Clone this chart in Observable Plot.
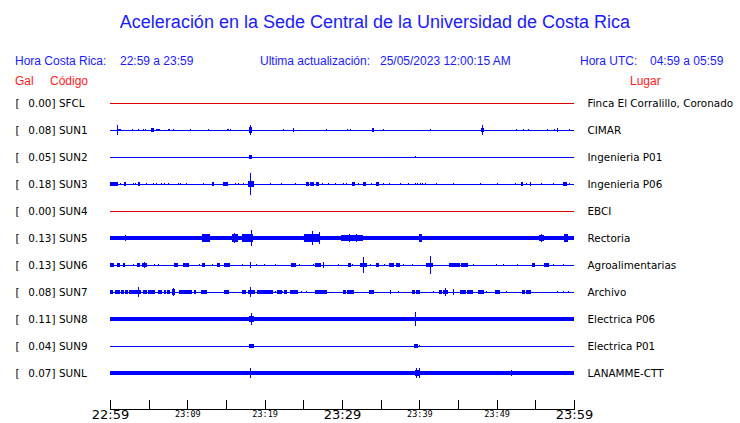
<!DOCTYPE html>
<html>
<head>
<meta charset="utf-8">
<script src="https://cdn.jsdelivr.net/npm/d3@7"></script>
<script src="https://cdn.jsdelivr.net/npm/@observablehq/plot@0.6"></script>
<style>
  html, body { margin: 0; padding: 0; background: #fff; }
  #page { width: 740px; height: 423px; position: relative; overflow: hidden; }
  #head { position: relative; width: 740px; height: 90px; font-family: "Liberation Sans", Arial, sans-serif; }
  #head span { position: absolute; white-space: pre; line-height: 1; }
  .blue { color: #1a1aff; }
  .red { color: #ff1a1a; }
  #chart svg { display: block; }
</style>
</head>
<body>
<div id="page">
  <div id="head">
    <span id="title" class="blue" style="left:5px;width:740px;text-align:center;top:13px;font-size:18px;"></span>
    <span class="blue" style="left:15px;top:55px;font-size:12px;">Hora Costa Rica:</span>
    <span id="hcr" class="blue" style="left:120px;top:55px;font-size:12px;"></span>
    <span class="blue" style="left:260px;top:55px;font-size:12px;">Ultima actualización:</span>
    <span id="upd" class="blue" style="left:380px;top:55px;font-size:12px;"></span>
    <span class="blue" style="left:580px;top:55px;font-size:12px;">Hora UTC:</span>
    <span id="hutc" class="blue" style="left:650px;top:55px;font-size:12px;"></span>
    <span class="red" style="left:15px;top:75px;font-size:12px;">Gal</span>
    <span class="red" style="left:50px;top:75px;font-size:12px;">Código</span>
    <span class="red" style="left:630px;top:75px;font-size:12px;">Lugar</span>
  </div>
  <div id="chart"></div>
</div>
<script>
// ---- texts ----
const titleText = "Aceleración en la Sede Central de la Universidad de Costa Rica";
const horaCostaRica = "22:59 a 23:59";
const ultimaActualizacion = "25/05/2023 12:00:15 AM";
const horaUTC = "04:59 a 05:59";

// ---- stations ----
const codes = ["SFCL", "SUN1", "SUN2", "SUN3", "SUN4", "SUN5", "SUN6", "SUN7", "SUN8", "SUN9", "SUNL"];
const gal = [0.00, 0.08, 0.05, 0.18, 0.00, 0.13, 0.13, 0.08, 0.11, 0.04, 0.07];
const places = ["Finca El Corralillo, Coronado", "CIMAR", "Ingenieria P01", "Ingenieria P06", "EBCI",
  "Rectoria", "Agroalimentarias", "Archivo", "Electrica P06", "Electrica P01", "LANAMME-CTT"];
// background noise half-amplitude (in row units)
const noise = [0, 0, 0, 0, 0, 0.056, 0, 0, 0.056, 0, 0.06];

// ---- time axis (minutes after 22:59) ----
const tickMinutes = [0, 5, 10, 15, 20, 25, 30, 35, 40, 45, 50, 55, 60];
const majorLabelMinutes = [0, 30, 60];
const majorLabels = ["22:59", "23:29", "23:59"];
const minorLabelMinutes = [10, 20, 40, 50];
const minorLabels = ["23:09", "23:19", "23:39", "23:49"];

// ---- events per station: [start minute, end minute, half amplitude (row units)] ----
const sfclEvents = [];
const sun1Events = [[0.95,0.95,0.2],[1.15,1.3,0.055],[2.88,2.88,0.055],[3.70,3.70,0.055],[4.34,4.34,0.055],[4.56,4.56,0.055],
  [5.42,5.59,0.075],[6.02,6.37,0.055],[7.53,7.53,0.055],[7.74,7.74,0.055],[8.17,8.17,0.055],[10.41,10.41,0.055],[12.73,12.73,0.055],
  [15.14,15.14,0.055],[15.35,15.35,0.055],[15.61,15.61,0.055],[18.1,18.3,0.1],[18.19,18.19,0.17],[22.41,22.41,0.055],[23.70,23.70,0.07],
  [28.04,28.04,0.055],[30.75,30.75,0.055],[31.05,31.05,0.045],[34.0,34.1,0.07],[35.40,35.40,0.055],[41.46,41.46,0.055],[48.17,48.17,0.17],
  [48.1,48.3,0.07],[52.56,52.56,0.055],[53.42,53.42,0.055],[54.11,54.11,0.055],[56.56,56.56,0.055],[57.51,57.51,0.055],[57.89,57.89,0.07],[59.44,59.44,0.045]];
const sun2Events = [[18.1,18.3,0.09],[18.19,18.19,0.09],[39.48,39.48,0.045]];
const sun3Events = [[0.05,1.0,0.06],[1.38,1.38,0.055],[1.85,2.0,0.06],[3.05,3.05,0.055],[3.35,3.35,0.055],[3.7,3.85,0.07],[4.69,4.69,0.055],
  [5.63,5.63,0.055],[6.02,6.02,0.055],[6.67,6.67,0.055],[7.01,7.01,0.055],[7.57,7.57,0.055],[8.82,8.82,0.055],[9.07,9.07,0.055],[9.85,9.85,0.055],
  [12.09,12.09,0.055],[13.2,13.35,0.07],[14.65,15.2,0.07],[16.17,16.17,0.055],[16.56,16.56,0.055],[17.20,17.20,0.055],[17.95,18.6,0.11],
  [18.15,18.15,0.42],[20.73,20.73,0.055],[22.24,22.24,0.055],[24.04,24.04,0.055],[25.4,25.7,0.07],[25.9,26.3,0.085],[26.7,27.0,0.07],
  [27.53,27.53,0.055],[28.22,28.22,0.055],[29.20,29.20,0.055],[30.15,30.15,0.055],[30.58,30.58,0.055],[31.3,31.6,0.07],[32.13,32.13,0.055],
  [32.77,33.03,0.07],[33.76,33.76,0.055],[34.45,34.75,0.07],[35.31,35.31,0.055],[36.13,36.13,0.055],[37.55,37.55,0.055],[38.62,38.62,0.055],
  [39.48,39.48,0.055],[39.78,39.78,0.055],[40.21,40.21,0.055],[40.47,40.47,0.055],[40.86,40.86,0.055],[42.28,42.28,0.055],[44.43,44.43,0.055],
  [47.91,47.91,0.055],[50.11,50.11,0.055],[52.39,52.39,0.055],[53.2,53.35,0.07],[53.89,53.89,0.055],[54.41,54.41,0.07],[55.83,55.83,0.055],
  [57.38,57.38,0.055],[58.7,59.0,0.07],[59.48,59.48,0.055]];
const sun4Events = [];
const sun5Events = [[1.98,1.98,0.11],[4.13,4.13,0.08],[4.6,4.8,0.08],[5.59,5.59,0.08],[6.15,6.35,0.08],[6.88,6.88,0.08],[7.35,7.35,0.08],
  [8.04,8.04,0.08],[8.75,8.95,0.08],[9.7,9.9,0.08],[12.0,12.9,0.15],[14.02,14.02,0.08],[14.80,14.80,0.08],[15.3,15.55,0.09],
  [15.83,16.43,0.15],[16.1,16.1,0.2],[17.12,17.72,0.13],[17.94,18.49,0.15],[18.28,18.28,0.3],[19.27,19.27,0.08],[21.46,21.46,0.08],
  [23.66,23.66,0.08],[24.09,24.09,0.08],[25.2,27.0,0.15],[26.2,26.2,0.26],[27.10,27.10,0.22],[28.21,28.21,0.08],[28.47,28.47,0.08],
  [29.3,29.3,0.08],[29.98,32.69,0.1],[30.97,30.97,0.15],[31.83,31.83,0.16],[33.42,33.42,0.08],[34.50,34.93,0.09],[35.49,35.79,0.08],
  [36.69,36.69,0.08],[37.55,37.55,0.08],[38.11,38.11,0.08],[38.80,38.80,0.08],[39.40,39.40,0.08],[40.00,40.30,0.15],[41.12,41.12,0.08],
  [43.32,43.32,0.08],[44.86,44.86,0.08],[47.96,47.96,0.08],[49.29,49.29,0.08],[50.46,50.46,0.08],[52.95,52.95,0.08],[53.21,53.21,0.08],
  [54.41,54.41,0.08],[54.93,55.27,0.08],[55.57,56.05,0.11],[55.79,55.79,0.15],[57.0,57.0,0.08],[58.76,59.19,0.13]];
const sun6Events = [[0.0,0.47,0.07],[0.95,1.25,0.07],[1.72,1.89,0.07],[3.05,3.05,0.055],[3.57,3.83,0.07],[4.22,4.73,0.07],[4.52,4.52,0.1],
  [5.81,5.81,0.055],[6.24,6.24,0.055],[8.30,8.73,0.07],[9.46,9.72,0.07],[9.85,10.19,0.07],[11.61,11.61,0.055],[11.91,12.17,0.07],
  [13.20,13.20,0.055],[13.85,14.19,0.07],[14.84,15.44,0.07],[17.08,17.08,0.055],[18.15,18.15,0.11],[18.92,18.92,0.055],[20.04,20.04,0.055],
  [21.46,21.46,0.055],[23.53,23.96,0.07],[24.52,24.52,0.055],[26.28,26.28,0.055],[26.58,27.18,0.07],[27.57,27.57,0.1],[29.55,29.55,0.055],
  [30.80,31.05,0.08],[31.40,31.40,0.055],[32.43,33.16,0.09],[32.82,32.82,0.3],[33.63,33.63,0.055],[34.41,34.75,0.07],[35.48,35.48,0.055],
  [36.13,36.60,0.07],[37.03,37.46,0.07],[37.98,37.98,0.055],[39.18,39.18,0.055],[40.95,41.72,0.09],[41.42,41.42,0.33],[43.87,44.52,0.07],
  [44.73,45.16,0.07],[45.46,46.24,0.07],[47.05,47.05,0.055],[49.93,49.93,0.055],[50.92,50.92,0.055],[52.69,52.69,0.055],[54.67,54.92,0.07],
  [56.17,56.73,0.07],[57.29,57.29,0.055],[58.58,58.58,0.055]];
const sun7Events = [[0.09,0.30,0.07],[0.77,1.29,0.07],[1.46,1.72,0.07],[1.94,2.28,0.07],[2.54,4.00,0.08],[3.66,3.66,0.17],[4.30,4.73,0.07],
  [4.95,5.81,0.07],[6.24,6.67,0.07],[7.01,7.18,0.07],[7.44,7.74,0.07],[8.13,8.39,0.1],[8.21,8.21,0.15],[9.03,10.54,0.07],[10.88,11.05,0.07],
  [11.83,12.52,0.07],[14.84,15.27,0.07],[17.16,17.51,0.07],[17.85,18.71,0.08],[18.15,18.15,0.17],[19.05,21.07,0.07],[21.38,21.38,0.055],
  [21.72,22.15,0.07],[22.36,22.36,0.055],[22.58,22.80,0.07],[23.31,24.30,0.075],[24.73,24.73,0.055],[25.42,25.42,0.055],[26.62,28.00,0.07],
  [30.15,30.49,0.07],[30.75,31.48,0.07],[33.55,34.11,0.075],[36.21,36.21,0.09],[37.33,37.33,0.055],[39.14,39.40,0.07],[39.61,40.08,0.07],
  [41.81,41.81,0.055],[42.62,42.88,0.07],[43.10,43.66,0.075],[43.44,43.44,0.15],[44.47,44.47,0.1],[45.38,46.02,0.07],[46.23,46.88,0.07],
  [47.65,48.26,0.07],[48.73,48.73,0.055],[49.89,50.41,0.07],[51.31,51.31,0.055],[53.29,53.55,0.07],[53.85,54.37,0.07],[57.85,57.85,0.055],
  [58.62,58.62,0.055],[59.35,59.35,0.055]];
const sun8Events = [[18.07,18.62,0.12],[18.28,18.28,0.24],[27.31,27.31,0.065],[31.53,31.53,0.065],[33.46,33.46,0.065],[35.83,35.83,0.065],
  [39.48,39.48,0.27],[39.70,40.00,0.075],[43.35,43.35,0.065],[50.67,50.67,0.065],[52.82,52.82,0.065],[56.99,56.99,0.065],
  [57.72,57.72,0.065],[59.3,59.9,0.065]];
const sun9Events = [[18.07,18.54,0.06],[39.35,39.78,0.07],[40.0,40.0,0.05]];
const sunlEvents = [[17.76,17.94,0.09],[18.19,18.19,0.19],[33.89,33.89,0.07],[39.48,39.87,0.1],[39.61,39.61,0.17],[40.04,40.04,0.185],
  [51.91,51.91,0.12],[59.8,59.9,0.07]];

const eventsByStation = [sfclEvents, sun1Events, sun2Events, sun3Events, sun4Events, sun5Events,
  sun6Events, sun7Events, sun8Events, sun9Events, sunlEvents];

// ---- header text ----
document.getElementById("title").textContent = titleText;
document.getElementById("hcr").textContent = horaCostaRica;
document.getElementById("upd").textContent = ultimaActualizacion;
document.getElementById("hutc").textContent = horaUTC;

// ---- build tables ----
const BLUE = "#0000ff", RED = "#dd0000";
const rows = codes.map((c, i) => ({i, code: c, gal: gal[i], place: places[i], noise: noise[i],
  color: gal[i] === 0 ? RED : BLUE}));
const noiseRows = rows.filter(r => r.noise > 0);
const events = eventsByStation.flatMap((ev, i) => ev.map(([t0, t1, a]) => ({i, t0, t1, a})));

const chart = Plot.plot({
  width: 740,
  height: 333,
  marginLeft: 110,
  marginRight: 166,
  marginTop: 13,
  marginBottom: 14,
  style: {fontFamily: "'DejaVu Sans', sans-serif", fontSize: "10.4px", background: "#fff", color: "#000"},
  x: {domain: [0, 60], axis: null},
  y: {domain: [0, codes.length - 1], range: [13, 283], axis: null},
  marks: [
    Plot.ruleY(rows, {y: "i", x1: 0, x2: 60, stroke: "color", strokeWidth: 1, shapeRendering: "crispEdges"}),
    Plot.rect(noiseRows, {x1: 0, x2: 60, y1: d => d.i - d.noise, y2: d => d.i + d.noise, fill: BLUE, shapeRendering: "crispEdges"}),
    Plot.rect(events, {x1: "t0", x2: "t1", y1: d => d.i - d.a, y2: d => d.i + d.a, fill: BLUE,
      insetLeft: -0.5, insetRight: -0.5, shapeRendering: "crispEdges"}),
    // left labels
    Plot.text(rows, {y: "i", text: () => "[", frameAnchor: "left", dx: -95, textAnchor: "start", fill: "#000"}),
    Plot.text(rows, {y: "i", text: d => d.gal.toFixed(2) + "]", frameAnchor: "left", dx: -55, textAnchor: "end", fill: "#000"}),
    Plot.text(rows, {y: "i", text: "code", frameAnchor: "left", dx: -51.5, textAnchor: "start", fill: "#000"}),
    // right labels
    Plot.text(rows, {y: "i", text: "place", frameAnchor: "right", dx: 13, textAnchor: "start", fill: "#000"}),
    // time axis
    Plot.frame({anchor: "bottom", stroke: "#000", shapeRendering: "crispEdges"}),
    Plot.ruleX(tickMinutes, {x: d => d, insetTop: 297, stroke: "#000", shapeRendering: "crispEdges"}),
    Plot.text(majorLabelMinutes, {x: d => d, text: (d, k) => majorLabels[k], frameAnchor: "bottom", dy: 9.5, fontSize: 13, fill: "#000"}),
    Plot.text(minorLabelMinutes, {x: d => d, text: (d, k) => minorLabels[k], frameAnchor: "bottom", dy: 7, fontSize: 8.5,
      fontFamily: "'DejaVu Sans Mono', monospace", fill: "#000"})
  ]
});
document.getElementById("chart").appendChild(chart);
</script>
</body>
</html>
